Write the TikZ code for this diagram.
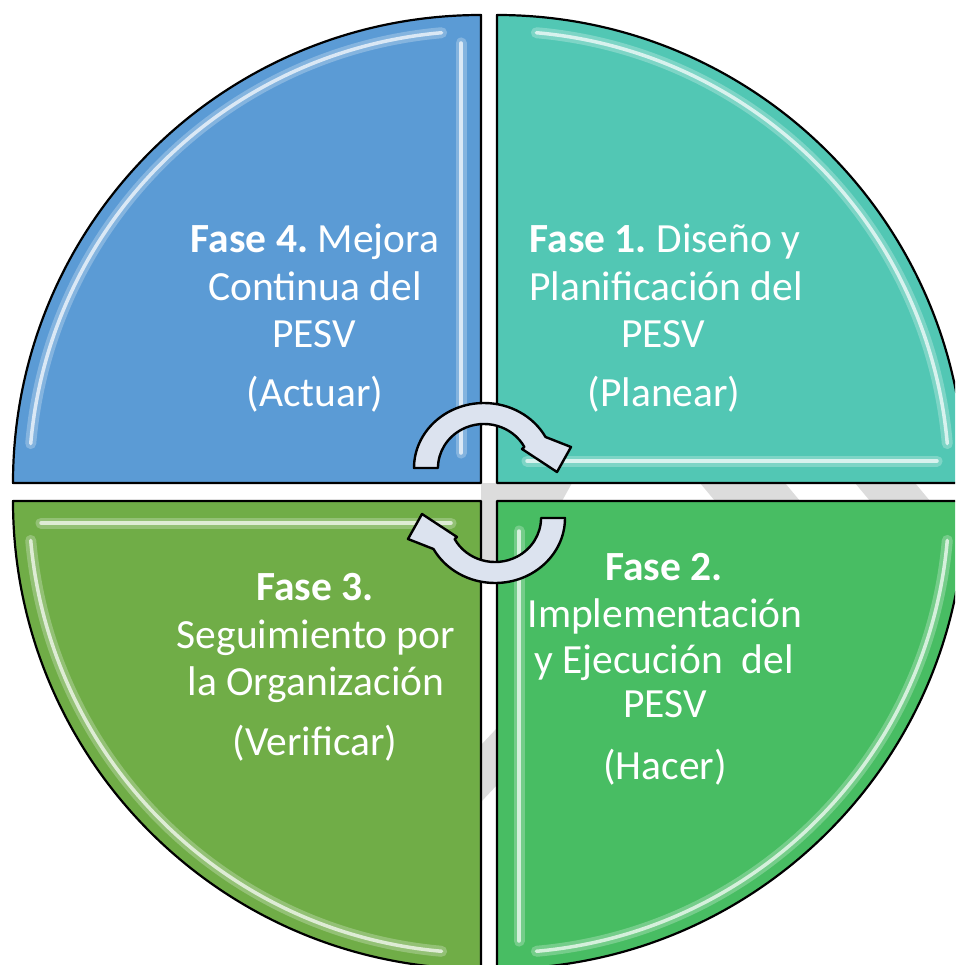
\documentclass[tikz,border=0pt]{standalone}
\usepackage{fontspec}
\setmainfont{Carlito}
\frenchspacing
\definecolor{qblue}{HTML}{5B9BD5}
\definecolor{qteal}{HTML}{52C7B4}
\definecolor{qgreenA}{HTML}{48BD63}
\definecolor{qgreenB}{HTML}{70AD47}
\definecolor{arrfill}{HTML}{DCE3EF}
\definecolor{wmgray}{HTML}{DCDCDC}
\tikzset{
  lbl/.style={anchor=base, text=white, inner sep=0pt, font=\fontsize{41.5}{47}\selectfont},
  cyc/.style={fill=arrfill, draw=black, line width=2.4pt, line join=round},
  qline/.style={draw=black, line width=2.2pt, line join=round},
  glow/.style={draw=white, opacity=0.25, line width=11pt, line cap=round},
  shine/.style={draw=white, opacity=0.7, line width=3.5pt, line cap=round},
}
% #1 transform, #2 fill colour, #3 straight-edge highlight path (local coords)
\newcommand{\quadrant}[3]{%
  \begin{scope}[#1]
    \fill[#2] (0,0) -- (-468,0) arc[start angle=180,end angle=90,radius=468] -- cycle;
    \draw[glow] (175:452) arc[start angle=175,end angle=95,radius=452];
    \draw[shine] (175:452) arc[start angle=175,end angle=95,radius=452];
    \draw[glow] #3;
    \draw[shine] #3;
    \draw[qline] (0,0) -- (-468,0) arc[start angle=180,end angle=90,radius=468] -- cycle;
  \end{scope}}
\begin{document}
\begin{tikzpicture}[x=1pt,y=1pt]
\useasboundingbox (0,0) rectangle (955,-965);
\clip (0,0) rectangle (955,-965);
\fill[white] (0,0) rectangle (955,-965);
% faint watermark visible in the gaps
\fill[wmgray] (481,-483) -- (572,-483) -- (562,-501) -- (497,-501) -- (497,-560) -- (481,-575) -- cycle;
\fill[wmgray] (700,-483) -- (785,-483) -- (800,-501) -- (715,-501) -- cycle;
\fill[wmgray] (855,-483) -- (915,-483) -- (930,-501) -- (870,-501) -- cycle;
\fill[wmgray] (481,-745) -- (497,-728) -- (497,-785) -- (481,-802) -- cycle;
% quadrants
\quadrant{shift={(481,-483)}}{qblue}{(-20,30) -- (-20,440)}
\quadrant{shift={(497,-483)},xscale=-1}{qteal}{(-30,22) -- (-440,22)}
\quadrant{shift={(481,-501)},yscale=-1}{qgreenB}{(-30,22) -- (-440,22)}
\quadrant{shift={(497,-501)},xscale=-1,yscale=-1}{qgreenA}{(-22,30) -- (-22,440)}
% cycle arrows
\draw[cyc] (414,-468) arc[start angle=180,end angle=28.5,x radius=70,y radius=65]
  -- (571,-447) -- (557,-472) -- (522,-449) -- (524.4,-447)
  arc[start angle=28.5,end angle=180,x radius=46,y radius=44] -- cycle;
\begin{scope}[rotate around={180:(489.5,-493)}]
\draw[cyc] (414,-468) arc[start angle=180,end angle=28.5,x radius=70,y radius=65]
  -- (571,-447) -- (557,-472) -- (522,-449) -- (524.4,-447)
  arc[start angle=28.5,end angle=180,x radius=46,y radius=44] -- cycle;
\end{scope}
% texts
\node[lbl] (f4a) at (315,-253) {\textbf{Fase 4.} Mejora};
\node[lbl] (f4b) at (315,-300) {Continua del};
\node[lbl] (f4c) at (314,-347) {PESV};
\node[lbl] (f4d) at (315,-406) {(Actuar)};
\node[lbl] (f1a) at (665,-253) {\textbf{Fase 1.} Diseño y};
\node[lbl] (f1b) at (666,-300) {Planificación del};
\node[lbl] (f1c) at (663,-347) {PESV};
\node[lbl] (f1d) at (664,-406) {(Planear)};
\node[lbl] (f3a) at (315,-600) {\textbf{Fase 3.}};
\node[lbl] (f3b) at (316,-648) {Seguimiento por};
\node[lbl] (f3c) at (316,-695) {la Organización};
\node[lbl] (f3d) at (315,-755) {(Verificar)};
\node[lbl] (f2a) at (664,-580) {\textbf{Fase 2.}};
\node[lbl] (f2b) at (665,-627) {Implementación};
\node[lbl] (f2c) at (664,-673) {y Ejecución\ \ del};
\node[lbl] (f2d) at (665,-717) {PESV};
\node[lbl] (f2e) at (665,-779) {(Hacer)};
\end{tikzpicture}
\end{document}
